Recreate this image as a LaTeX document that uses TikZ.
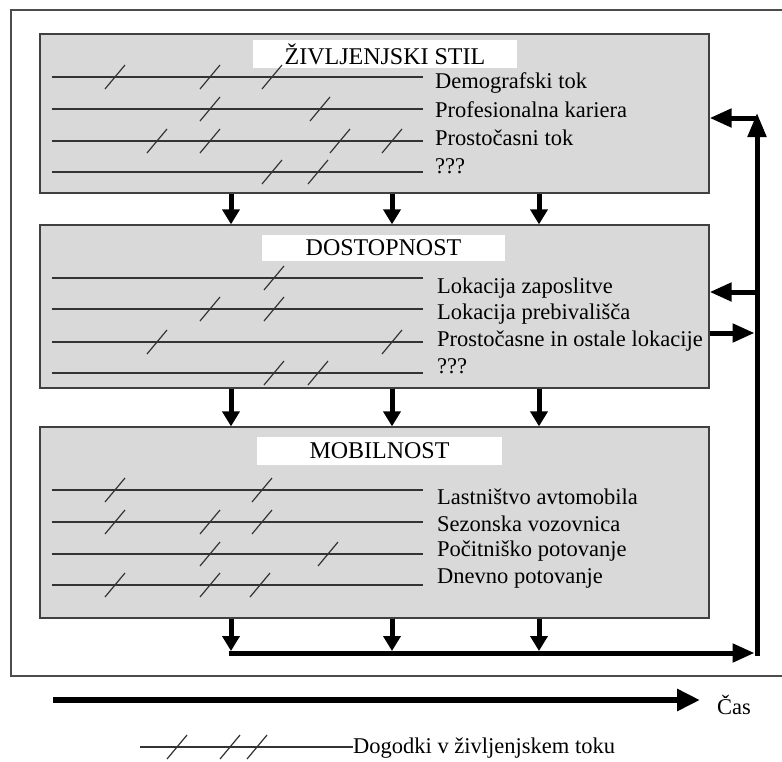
\documentclass[tikz,border=0pt]{standalone}
\usepackage{fontspec}
\setmainfont{Liberation Serif}
\usepackage{tikz}
\usetikzlibrary{arrows.meta}

\begin{document}
\begin{tikzpicture}[x=1pt,y=-1pt,
  panel/.style={draw=black!75,fill=black!15,line width=1.3pt,inner sep=0pt},
  heading/.style={fill=white,inner sep=0pt,font=\fontsize{24}{28}\selectfont},
  tag/.style={anchor=west,inner sep=0pt,font=\fontsize{22.5}{26}\selectfont},
  lane/.style={draw=black!80,line width=1.3pt},
  tickmark/.style={draw=black!80,line width=1.2pt},
  fat/.style={line width=5pt,-{Triangle[length=15pt,width=17pt]}},
  side/.style={line width=5pt,-{Triangle[length=22pt,width=18pt]}},
  riser/.style={line width=5pt,-{Triangle[length=24pt,width=18pt]}}]
  \useasboundingbox (0,0) rectangle (782,761);
  \draw[black!70,line width=1.3pt] (790,10) -- (11,10) -- (11,676) -- (790,676);

  \node[panel,minimum width=669pt,minimum height=159pt] (stil) at (374.5,113.5) {};
  \node[panel,minimum width=669pt,minimum height=163pt] (dost) at (374.5,306.5) {};
  \node[panel,minimum width=669pt,minimum height=191pt] (mob) at (374.5,522.5) {};

  \node[heading,minimum width=264pt,minimum height=28pt] (stilhead) at (385,54) {ŽIVLJENJSKI STIL};
  \node[heading,minimum width=243pt,minimum height=26pt] (dosthead) at (383.5,248) {DOSTOPNOST};
  \node[heading,minimum width=245pt,minimum height=28pt] (mobhead) at (379.5,451) {MOBILNOST};

  \draw[lane] (52,77) -- (423,77);
  \draw[lane] (52,109) -- (423,109);
  \draw[lane] (52,141) -- (423,141);
  \draw[lane] (52,172) -- (423,172);
  \node[tag] (demo) at (435,83) {Demografski tok};
  \node[tag] (kariera) at (435,110) {Profesionalna kariera};
  \node[tag] (prosti) at (435,138) {Prostočasni tok};
  \node[tag] (stilq) at (435,166) {???};
  \draw[tickmark] (115,77) +(-10,12) -- +(10,-12);
  \draw[tickmark] (210,77) +(-10,12) -- +(10,-12);
  \draw[tickmark] (272,77) +(-10,12) -- +(10,-12);
  \draw[tickmark] (210,109) +(-10,12) -- +(10,-12);
  \draw[tickmark] (320,109) +(-10,12) -- +(10,-12);
  \draw[tickmark] (157,141) +(-10,12) -- +(10,-12);
  \draw[tickmark] (210,141) +(-10,12) -- +(10,-12);
  \draw[tickmark] (340,141) +(-10,12) -- +(10,-12);
  \draw[tickmark] (392,141) +(-10,12) -- +(10,-12);
  \draw[tickmark] (272,172) +(-10,12) -- +(10,-12);
  \draw[tickmark] (318,172) +(-10,12) -- +(10,-12);

  \draw[lane] (52,278) -- (423,278);
  \draw[lane] (52,309) -- (423,309);
  \draw[lane] (52,342) -- (423,342);
  \draw[lane] (52,373) -- (423,373);
  \node[tag] (zaposl) at (437,288) {Lokacija zaposlitve};
  \node[tag] (prebiv) at (437,314) {Lokacija prebivališča};
  \node[tag] (ostale) at (437,341) {Prostočasne in ostale lokacije};
  \node[tag] (dostq) at (437,366) {???};
  \draw[tickmark] (274,278) +(-10,12) -- +(10,-12);
  \draw[tickmark] (210,309) +(-10,12) -- +(10,-12);
  \draw[tickmark] (274,309) +(-10,12) -- +(10,-12);
  \draw[tickmark] (157,342) +(-10,12) -- +(10,-12);
  \draw[tickmark] (392,342) +(-10,12) -- +(10,-12);
  \draw[tickmark] (274,373) +(-10,12) -- +(10,-12);
  \draw[tickmark] (318,373) +(-10,12) -- +(10,-12);

  \draw[lane] (52,490) -- (423,490);
  \draw[lane] (52,522) -- (423,522);
  \draw[lane] (52,554) -- (423,554);
  \draw[lane] (52,585) -- (423,585);
  \node[tag] (avto) at (437,497) {Lastništvo avtomobila};
  \node[tag] (vozovn) at (437,524) {Sezonska vozovnica};
  \node[tag] (pocit) at (437,551) {Počitniško potovanje};
  \node[tag] (dnevno) at (437,578) {Dnevno potovanje};
  \draw[tickmark] (115,490) +(-10,12) -- +(10,-12);
  \draw[tickmark] (262,490) +(-10,12) -- +(10,-12);
  \draw[tickmark] (115,522) +(-10,12) -- +(10,-12);
  \draw[tickmark] (210,522) +(-10,12) -- +(10,-12);
  \draw[tickmark] (262,522) +(-10,12) -- +(10,-12);
  \draw[tickmark] (210,554) +(-10,12) -- +(10,-12);
  \draw[tickmark] (328,554) +(-10,12) -- +(10,-12);
  \draw[tickmark] (115,585) +(-10,12) -- +(10,-12);
  \draw[tickmark] (210,585) +(-10,12) -- +(10,-12);
  \draw[tickmark] (260,585) +(-10,12) -- +(10,-12);

  \coordinate (colA) at (231,0);
  \coordinate (colB) at (392,0);
  \coordinate (colC) at (539,0);
  \draw[fat] (stil.south -| colA) -- (dost.north -| colA);
  \draw[fat] (stil.south -| colB) -- (dost.north -| colB);
  \draw[fat] (stil.south -| colC) -- (dost.north -| colC);
  \draw[fat] (dost.south -| colA) -- (mob.north -| colA);
  \draw[fat] (dost.south -| colB) -- (mob.north -| colB);
  \draw[fat] (dost.south -| colC) -- (mob.north -| colC);

  \coordinate (busL) at (228.5,653);
  \coordinate (busR) at (754.5,653);
  \coordinate (riseB) at (757,655.5);
  \coordinate (riseT) at (757,113);
  \draw[fat] (mob.south -| colA) -- (colA |- 0,651);
  \draw[fat] (mob.south -| colB) -- (colB |- 0,651);
  \draw[fat] (mob.south -| colC) -- (colC |- 0,651);
  \draw[side] (busL) -- (busR);
  \draw[riser] (riseB) -- (riseT);

  \coordinate (backA) at (757,118);
  \coordinate (backB) at (757,292);
  \coordinate (outC) at (754.5,333);
  \draw[side] (backA) -- (backA -| stil.east);
  \draw[side] (backB) -- (backB -| dost.east);
  \draw[side] (outC -| dost.east) -- (outC);

  \node[tag] (cas) at (717,705) {Čas};
  \coordinate (timeL) at (53,700);
  \draw[line width=6pt,-{Triangle[length=23pt,width=21pt]}] (timeL) -- ([xshift=-17pt]cas.west |- timeL);

  \node[tag] (legend) at (353,748) {Dogodki v življenjskem toku};
  \coordinate (legL) at (140,747);
  \draw[lane] (legL) -- (legend.west |- legL);
  \draw[tickmark] (177,747) +(-10,12) -- +(10,-12);
  \draw[tickmark] (230,747) +(-10,12) -- +(10,-12);
  \draw[tickmark] (257,747) +(-10,12) -- +(10,-12);
\end{tikzpicture}
\end{document}
